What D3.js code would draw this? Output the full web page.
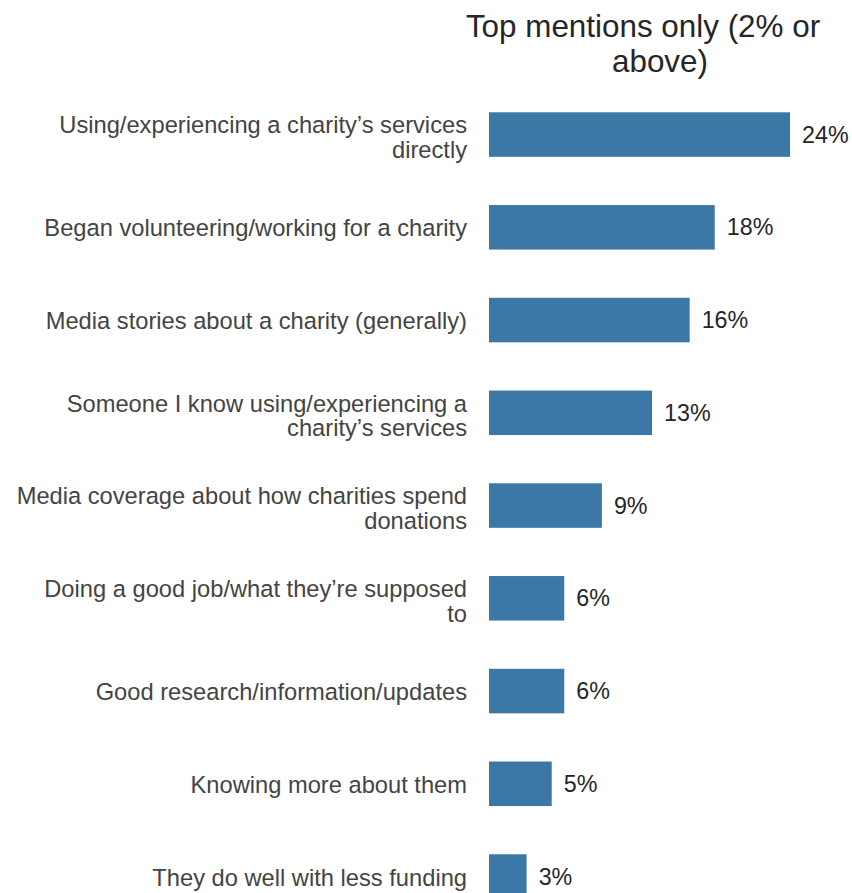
<!DOCTYPE html>
<html>
<head>
<meta charset="utf-8">
<script src="https://cdn.jsdelivr.net/npm/d3@7"></script>
<style>
  html, body { margin: 0; padding: 0; background: #ffffff; }
  svg { display: block; font-family: "Liberation Sans", Arial, Helvetica, sans-serif; }
</style>
</head>
<body>
<svg id="chart" width="852" height="893"></svg>
<script>
// Reasons for growing trust in charities — top mentions
const titleLines = ["Top mentions only (2% or", "above)"];

const categories = [
  ["Using/experiencing a charity\u2019s services", "directly"],
  ["Began volunteering/working for a charity"],
  ["Media stories about a charity (generally)"],
  ["Someone I know using/experiencing a", "charity\u2019s services"],
  ["Media coverage about how charities spend", "donations"],
  ["Doing a good job/what they\u2019re supposed", "to"],
  ["Good research/information/updates"],
  ["Knowing more about them"],
  ["They do well with less funding"]
];

const values = [24, 18, 16, 13, 9, 6, 6, 5, 3];

const svg = d3.select("#chart");

const barLeft = 489;
const labelRight = 467;

const x = d3.scaleLinear().domain([0, 24]).range([barLeft, 790]);

const y = d3.scaleBand()
  .domain(d3.range(categories.length))
  .range([112.3, 898.8])
  .paddingInner(0.52)
  .paddingOuter(0);

// Title
const title = svg.append("text")
  .attr("fill", "#262626")
  .attr("font-size", 31.4)
  .attr("text-anchor", "middle");
title.append("tspan").attr("x", 643).attr("y", 37).text(titleLines[0]);
title.append("tspan").attr("x", 660).attr("y", 72).text(titleLines[1]);

// Bars
svg.append("g")
  .selectAll("rect")
  .data(values)
  .join("rect")
  .attr("x", x(0))
  .attr("y", (d, i) => y(i))
  .attr("width", d => x(d) - x(0))
  .attr("height", y.bandwidth())
  .attr("fill", "#3b78a6");

// Value labels
svg.append("g")
  .selectAll("text")
  .data(values)
  .join("text")
  .attr("x", d => x(d) + 12)
  .attr("y", (d, i) => y(i) + y.bandwidth() / 2 + 8)
  .attr("font-size", 23.3)
  .attr("fill", "#262626")
  .text(d => d + "%");

// Category labels (right-aligned, possibly two lines)
const lineH = 24.5;
const catG = svg.append("g");
categories.forEach((lines, i) => {
  const cy = y(i) + y.bandwidth() / 2;
  const first = cy + 9 - (lines.length - 1) * lineH / 2 + (lines.length > 1 ? 2 : 0);
  const t = catG.append("text")
    .attr("font-size", 23.7)
    .attr("fill", "#444444")
    .attr("text-anchor", "end");
  lines.forEach((ln, j) => {
    t.append("tspan")
      .attr("x", labelRight)
      .attr("y", first + j * lineH)
      .text(ln);
  });
});
</script>
</body>
</html>
